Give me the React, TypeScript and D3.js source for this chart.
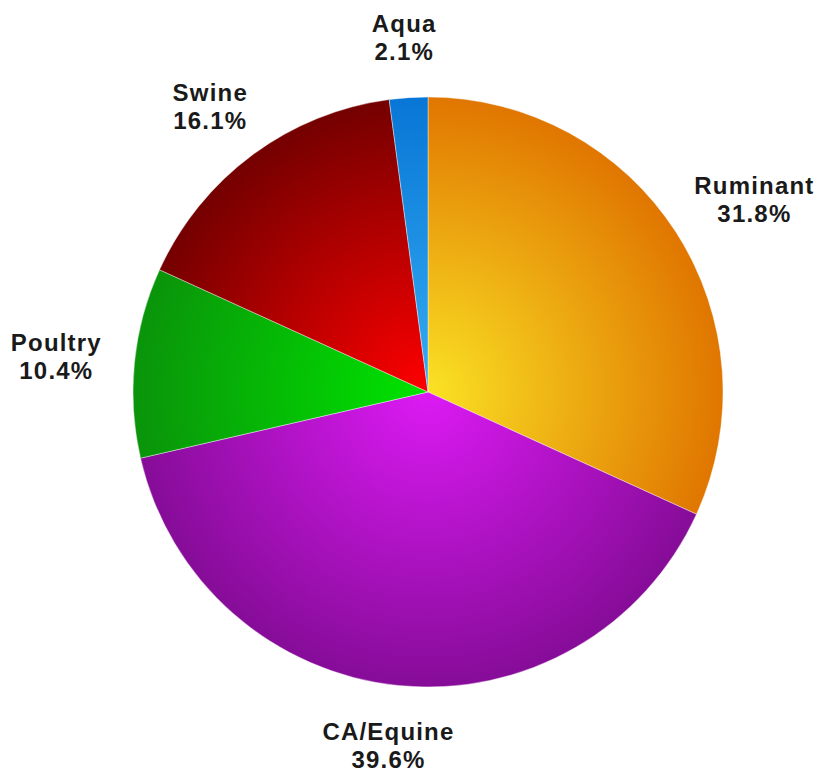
import * as React from "react";
import * as d3 from "d3";

const labels = ["Ruminant", "CA/Equine", "Poultry", "Swine", "Aqua"];
const shares = [31.8, 39.6, 10.4, 16.1, 2.1];
const innerColors = ["#fae224", "#dc1af4", "#00e400", "#ff0000", "#34acf2"];
const outerColors = ["#e07600", "#860c98", "#0a940a", "#740000", "#0876d6"];

const PieChart = () => {
  const svgRef = React.useRef<SVGSVGElement>(null);

  React.useEffect(() => {
    const width = 830;
    const height = 772;
    const cx = 428;
    const cy = 392;
    const radius = 295;

    const svg = d3.select(svgRef.current);
    svg.selectAll("*").remove();

    const data = labels.map((label, i) => ({ label, value: shares[i], i }));

    const defs = svg.append("defs");
    data.forEach((d) => {
      const grad = defs
        .append("radialGradient")
        .attr("id", `grad${d.i}`)
        .attr("gradientUnits", "userSpaceOnUse")
        .attr("cx", 0)
        .attr("cy", 0)
        .attr("r", radius);
      grad.append("stop").attr("offset", "0%").attr("stop-color", innerColors[d.i]);
      grad.append("stop").attr("offset", "100%").attr("stop-color", outerColors[d.i]);
    });

    const pie = d3
      .pie<any>()
      .sort(null)
      .value((d) => d.value);
    const arcs = pie(data);

    const arc = d3.arc<any>().innerRadius(0).outerRadius(radius);

    const g = svg.append("g").attr("transform", `translate(${cx} ${cy})`);

    g.selectAll("path")
      .data(arcs)
      .enter()
      .append("path")
      .attr("d", arc)
      .attr("fill", (d) => `url(#grad${d.data.i})`)
      .attr("stroke", "rgba(255,255,255,0.5)")
      .attr("stroke-width", 0.8);

    // labels outside the pie, pushed out by half their size
    const labelR = 328;
    const lg = g
      .selectAll("g.label")
      .data(arcs)
      .enter()
      .append("g")
      .attr("class", "label");

    const text = lg
      .append("text")
      .attr("text-anchor", "middle")
      .attr("font-family", "Liberation Sans, Arial, sans-serif")
      .attr("font-weight", "bold")
      .attr("font-size", "24px")
      .attr("letter-spacing", "1.2px")
      .attr("fill", "#1a1a1a");
    text.append("tspan").attr("x", 0).attr("dy", "-0.15em").text((d) => d.data.label);
    text
      .append("tspan")
      .attr("x", 0)
      .attr("dy", "1.15em")
      .text((d) => `${d.data.value.toFixed(1)}%`);

    lg.attr("transform", function (d) {
      const a = (d.startAngle + d.endAngle) / 2;
      const s = Math.sin(a);
      const c = Math.cos(a);
      const bb = (this as SVGGElement).getBBox();
      const x = labelR * s + s * (bb.width / 2) - (bb.x + bb.width / 2);
      const y = -labelR * c - c * (bb.height / 2);
      return `translate(${x} ${y - (bb.y + bb.height / 2)})`;
    });

    svg.attr("width", width).attr("height", height);
  }, []);

  return (
    <svg
      ref={svgRef}
      width={830}
      height={772}
      style={{ position: "absolute", left: 0, top: 0, background: "#fff" }}
    />
  );
};

export default function App() {
  return <PieChart />;
}
